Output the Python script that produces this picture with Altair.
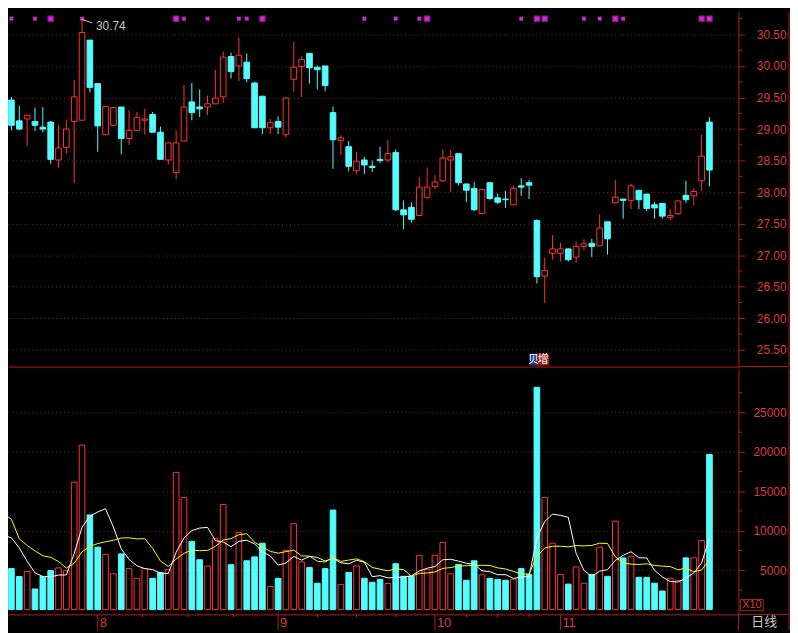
import altair as alt
import pandas as pd

# ---------------- data ----------------
opens = [29.46, 29.13, 29.16, 29.12, 29.03, 29.11, 28.51, 28.71, 29.12, 29.14,
         30.41, 29.72, 28.91, 29.06, 29.35, 28.85, 28.98, 29.14, 29.23, 28.95,
         28.51, 28.31, 28.81, 29.43, 29.35, 29.35, 29.40, 29.51, 30.15, 30.00,
         30.06, 29.73, 29.52, 29.02, 29.12, 28.91, 29.79, 29.99, 30.20, 29.98,
         30.00, 29.26, 28.82, 28.72, 28.34, 28.51, 28.41, 28.52, 28.51, 28.63,
         27.72, 27.76, 27.63, 27.92, 28.09, 28.18, 28.51, 28.61, 28.13, 28.06,
         27.66, 28.15, 27.91, 27.89, 27.80, 28.10, 28.15, 27.55, 26.67, 27.03,
         27.03, 27.10, 26.97, 27.14, 27.19, 27.15, 27.53, 27.83, 27.89, 27.87,
         28.03, 27.97, 27.80, 27.82, 27.60, 27.66, 27.95, 27.94, 28.18, 29.11]
highs = [29.51, 29.37, 29.22, 29.34, 29.35, 29.13, 29.07, 29.15, 29.78, 30.74,
         30.41, 29.72, 29.37, 29.35, 29.35, 29.30, 29.27, 29.32, 29.27, 29.04,
         28.79, 28.98, 29.70, 29.73, 29.63, 29.53, 29.94, 30.23, 30.21, 30.45,
         30.20, 29.75, 29.53, 29.16, 29.20, 29.50, 30.38, 30.15, 30.20, 30.01,
         30.00, 29.36, 28.90, 28.81, 28.64, 28.56, 28.50, 28.72, 28.82, 28.68,
         27.87, 27.84, 28.24, 28.39, 28.27, 28.67, 28.67, 28.61, 28.13, 28.16,
         28.05, 28.15, 27.98, 28.02, 28.10, 28.22, 28.19, 27.57, 26.96, 27.32,
         27.20, 27.11, 27.22, 27.25, 27.26, 27.65, 27.53, 28.19, 27.89, 28.13,
         28.03, 27.97, 27.84, 27.82, 27.73, 27.87, 28.18, 28.06, 28.91, 29.19]
lows = [28.98, 28.98, 28.73, 28.97, 28.95, 28.45, 28.39, 28.61, 28.14, 29.14,
        29.58, 28.64, 28.91, 29.06, 28.60, 28.75, 28.98, 28.91, 28.95, 28.52,
        28.44, 28.20, 28.81, 29.14, 29.19, 29.22, 29.40, 29.41, 29.80, 29.76,
        29.74, 29.02, 28.92, 28.92, 28.92, 28.87, 29.59, 29.51, 29.72, 29.63,
        29.60, 28.37, 28.59, 28.33, 28.29, 28.29, 28.32, 28.46, 28.47, 27.70,
        27.41, 27.52, 27.63, 27.89, 28.05, 28.16, 28.01, 28.11, 27.84, 27.70,
        27.66, 27.87, 27.81, 27.75, 27.80, 27.94, 27.89, 26.55, 26.24, 26.93,
        26.90, 26.90, 26.88, 27.08, 26.97, 27.15, 27.01, 27.83, 27.58, 27.73,
        27.73, 27.70, 27.58, 27.58, 27.55, 27.64, 27.83, 27.79, 28.02, 28.09]
closes = [29.06, 29.00, 29.22, 29.06, 29.00, 28.52, 28.70, 29.00, 29.51, 30.53,
          29.66, 29.05, 29.36, 29.34, 28.85, 28.98, 29.18, 29.16, 28.95, 28.52,
          28.78, 28.78, 29.35, 29.26, 29.32, 29.40, 29.49, 30.14, 29.91, 30.17,
          29.80, 29.02, 29.02, 29.10, 29.03, 29.49, 29.98, 30.10, 29.97, 29.94,
          29.69, 28.83, 28.86, 28.41, 28.49, 28.43, 28.39, 28.50, 28.61, 27.72,
          27.64, 27.57, 28.08, 28.08, 28.16, 28.54, 28.56, 28.15, 28.03, 27.72,
          28.04, 27.90, 27.84, 27.88, 28.06, 28.08, 28.11, 26.66, 26.76, 27.10,
          27.10, 26.93, 27.14, 27.18, 27.14, 27.43, 27.26, 27.92, 27.87, 28.10,
          27.88, 27.74, 27.75, 27.62, 27.63, 27.86, 27.88, 28.01, 28.57, 28.35]
volumes = [5200, 4200, 4830, 2610, 4200, 4950, 5290, 4950, 16160, 20860,
           12000, 7920, 7020, 4540, 7060, 5200, 3970, 5200, 3970, 4710,
           5080, 17400, 14230, 8660, 6320, 5530, 8990, 13320, 5700, 9780,
           6190, 6690, 8420, 2940, 3970, 7510, 10890, 6030, 5330, 3350,
           5200, 12620, 3190, 4710, 5530, 3970, 3470, 3840, 3310, 5820,
           4220, 4220, 6890, 5080, 6890, 8500, 4540, 5740, 3720, 6190,
           4420, 3970, 3840, 3720, 3840, 5200, 4460, 28190, 14230, 8420,
           4460, 3230, 5410, 3350, 4460, 7920, 4220, 11220, 6560, 6770,
           4090, 4090, 3350, 2360, 3970, 3720, 6560, 6560, 8750, 19670]
# volumes of the days just before the visible window (needed for the moving averages)
prev_volumes = [28900, 13100, 9600, 10400, 6950, 10600, 13250, 9960, 6460]

month_start_idx = [11, 34, 54, 70]
month_labels = ["8", "9", "10", "11"]
week_tick_idx = [16.7, 22.5, 28.3, 39, 44, 49, 58, 62, 66]

price_ticks = [25.5, 26.0, 26.5, 27.0, 27.5, 28.0, 28.5, 29.0, 29.5, 30.0, 30.5]
price_minor_ticks = [25.75, 26.25, 26.75, 27.25, 27.75, 28.25, 28.75, 29.25, 29.75, 30.25, 30.75]
volume_ticks = [5000, 10000, 15000, 20000, 25000]
volume_minor_ticks = [2500, 7500, 12500, 17500, 22500, 27500]

signal_small = [0, 3, 9, 22, 25, 29, 30, 45, 49, 52, 65, 73, 75, 78]
signal_big = [5, 21, 32, 53, 67, 68, 77, 88, 89]

peak_idx = [9]
peak_value = [30.74]

event_labels = ["贝", "增"]
unit_label = "X10"
period_label = "日线"

# ---------------- styling ----------------
FONT = "Liberation Sans"
CJK = "Noto Sans CJK SC"
RED = "#ff3434"
CYAN = "#54fcfc"
AXIS_RED = "#b41c1c"
GRID_RED = "#8c1a1a"
LABEL_RED = "#dc3c3c"
MAGENTA = "#d030d0"

W, H1, H2 = 737, 358, 248

n = len(opens)
kdf = pd.DataFrame({"i": list(range(n)), "open": opens, "high": highs, "low": lows,
                    "close": closes, "volume": volumes})
kdf["dir"] = ["up" if c >= o else "down" for o, c in zip(opens, closes)]

xs = alt.Scale(domain=[-0.44, 92.7], nice=False, zero=False)
ps = alt.Scale(domain=[25.235, 30.859], nice=False, zero=False)
vs = alt.Scale(domain=[-606, 30563], nice=False, zero=False)
dir_stroke = alt.Scale(domain=["up", "down"], range=[RED, CYAN])
dir_fill = alt.Scale(domain=["up", "down"], range=["#000000", CYAN])

common_y_axis = dict(orient="right", title=None, domain=True, domainColor=AXIS_RED,
                     ticks=True, tickSize=6, tickColor=AXIS_RED, tickCount=40,
                     labelColor=LABEL_RED, labelFont=FONT, labelFontSize=12,
                     labelAlign="right", labelPadding=42, labelOverlap=False,
                     grid=True, gridColor=GRID_RED, gridDash=[1, 3], zindex=0)
price_axis = alt.Axis(values=price_ticks, format=".2f", **common_y_axis)
vol_axis = alt.Axis(values=volume_ticks, format="d", **common_y_axis)
x_axis = alt.Axis(orient="bottom", labels=False, ticks=False, domain=True, domainColor=AXIS_RED,
                  grid=False, title=None)

one = pd.DataFrame({"a": [0]})
base = alt.Chart(kdf)

# ---------------- price panel ----------------
wicks = base.mark_rule(strokeWidth=1).encode(
    x=alt.X("i:Q", scale=xs, axis=x_axis),
    y=alt.Y("low:Q", scale=ps, axis=price_axis),
    y2="high:Q",
    color=alt.Color("dir:N", scale=dir_stroke, legend=None),
)
bodies = base.transform_calculate(xl="datum.i - 0.36", xr="datum.i + 0.36").mark_rect(strokeWidth=1).encode(
    x=alt.X("xl:Q", scale=xs), x2="xr:Q",
    y=alt.Y("open:Q", scale=ps), y2="close:Q",
    fill=alt.Fill("dir:N", scale=dir_fill, legend=None),
    stroke=alt.Stroke("dir:N", scale=dir_stroke, legend=None),
)
price_minor = alt.Chart(pd.DataFrame({"p": price_minor_ticks})).mark_rule(color=AXIS_RED).encode(
    x=alt.value(W), x2=alt.value(W + 4), y=alt.Y("p:Q", scale=ps))
right_border_top = alt.Chart(one).mark_rule(color=AXIS_RED).encode(
    x=alt.value(W + 51), y=alt.value(0), y2=alt.value(H1))
sep_right = alt.Chart(one).mark_rule(color=AXIS_RED).encode(
    x=alt.value(W), x2=alt.value(W + 51), y=alt.value(H1))

sig = pd.DataFrame({"i": signal_small + signal_big,
                    "kind": ["small"] * len(signal_small) + ["big"] * len(signal_big)})
sig_bg = alt.Chart(sig).transform_filter("datum.kind == 'big'").mark_square(
    size=42, color="#a010a0", opacity=1).encode(x=alt.X("i:Q", scale=xs), y=alt.value(7))
sig_x = alt.Chart(sig).mark_point(shape="cross", angle=45, filled=True, size=24, color=MAGENTA, opacity=1).encode(
    x=alt.X("i:Q", scale=xs), y=alt.value(7))

peak = pd.DataFrame({"i": peak_idx, "high": peak_value})
peak_arrow = alt.Chart(peak).mark_rule(color="#c8c8c8", strokeWidth=1).encode(
    x=alt.X("i:Q", scale=xs), x2=alt.datum(peak_idx[0] + 1.3),
    y=alt.Y("high:Q", scale=ps), y2=alt.datum(peak_value[0] - 0.06))
peak_text = alt.Chart(peak).mark_text(color="#c8c8c8", font=FONT, fontSize=12, align="left",
                                      baseline="middle", dx=14, dy=7).encode(
    x=alt.X("i:Q", scale=xs), y=alt.Y("high:Q", scale=ps),
    text=alt.Text("high:Q", format=".2f"))

ev = pd.DataFrame({"x0": [66.06, 67.06], "x1": [67.06, 68.56], "label": event_labels})
ev_blue = alt.Chart(ev.iloc[[0]]).mark_rect(color="#1e3c82").encode(
    x=alt.X("x0:Q", scale=xs), x2="x1:Q", y=alt.value(345), y2=alt.value(357))
ev_red = alt.Chart(ev.iloc[[1]]).mark_rect(color="#a01818").encode(
    x=alt.X("x0:Q", scale=xs), x2="x1:Q", y=alt.value(345), y2=alt.value(357))
ev_text = alt.Chart(ev).transform_calculate(xm="(datum.x0 + datum.x1) / 2").mark_text(
    color="#ffffff", font=CJK, fontSize=11, baseline="middle", align="center").encode(
    x=alt.X("xm:Q", scale=xs), y=alt.value(351), text="label:N")

price = alt.layer(wicks, bodies, price_minor, right_border_top, sep_right, sig_bg, sig_x,
                  peak_arrow, peak_text, ev_blue, ev_red, ev_text).properties(width=W, height=H1)

# ---------------- volume panel ----------------
vbars = base.transform_calculate(xl="datum.i - 0.36", xr="datum.i + 0.36").mark_rect(strokeWidth=1).encode(
    x=alt.X("xl:Q", scale=xs, axis=x_axis), x2="xr:Q",
    y=alt.Y("volume:Q", scale=vs, axis=vol_axis), y2=alt.datum(0),
    fill=alt.Fill("dir:N", scale=dir_fill, legend=None),
    stroke=alt.Stroke("dir:N", scale=dir_stroke, legend=None),
)
vall = pd.DataFrame({"i": list(range(-len(prev_volumes), 0)) + list(range(n)),
                     "volume": prev_volumes + volumes})
ma_base = alt.Chart(vall).transform_window(
    ma5="mean(volume)", frame=[-4, 0], sort=[alt.SortField("i")]
).transform_window(
    ma10="mean(volume)", frame=[-9, 0], sort=[alt.SortField("i")]
).transform_filter("datum.i >= -1")
ma5 = ma_base.mark_line(color="#ffffff", strokeWidth=1, clip=True).encode(
    x=alt.X("i:Q", scale=xs), y=alt.Y("ma5:Q", scale=vs), order="i:Q")
ma10 = ma_base.mark_line(color="#ffff00", strokeWidth=1, clip=True).encode(
    x=alt.X("i:Q", scale=xs), y=alt.Y("ma10:Q", scale=vs), order="i:Q")

vol_minor = alt.Chart(pd.DataFrame({"v": volume_minor_ticks})).mark_rule(color=AXIS_RED).encode(
    x=alt.value(W), x2=alt.value(W + 4), y=alt.Y("v:Q", scale=vs))
months = pd.DataFrame({"i": month_start_idx, "label": month_labels})
mticks = alt.Chart(months).mark_rule(color=AXIS_RED).encode(
    x=alt.X("i:Q", scale=xs), y=alt.value(H2), y2=alt.value(H2 + 16))
mlabels = alt.Chart(months).mark_text(color=LABEL_RED, font=FONT, fontSize=13, align="left",
                                      baseline="middle", dx=2).encode(
    x=alt.X("i:Q", scale=xs), y=alt.value(H2 + 8.5), text="label:N")
wticks = alt.Chart(pd.DataFrame({"i": week_tick_idx})).mark_rule(color=AXIS_RED).encode(
    x=alt.X("i:Q", scale=xs), y=alt.value(H2), y2=alt.value(H2 + 3))
bottom_right_h = alt.Chart(one).mark_rule(color=AXIS_RED).encode(
    x=alt.value(W), x2=alt.value(W + 51), y=alt.value(H2))
bottom_right_v = alt.Chart(one).mark_rule(color=AXIS_RED).encode(
    x=alt.value(W), y=alt.value(H2), y2=alt.value(H2 + 16))
right_border_bot = alt.Chart(one).mark_rule(color=AXIS_RED).encode(
    x=alt.value(W + 51), y=alt.value(0), y2=alt.value(H2 + 16))
unit_box = alt.Chart(one).mark_rect(filled=False, stroke=AXIS_RED, strokeWidth=1).encode(
    x=alt.value(W + 2), x2=alt.value(W + 25), y=alt.value(H2 - 15), y2=alt.value(H2 - 4))
unit_text = alt.Chart(one).mark_text(text=unit_label, color=LABEL_RED, font=FONT, fontSize=11,
                                     align="center", baseline="middle").encode(
    x=alt.value(W + 13.5), y=alt.value(H2 - 9.5))
period_text = alt.Chart(one).mark_text(text=period_label, color="#c8c8c8", font=CJK, fontSize=13,
                                       align="center", baseline="middle").encode(
    x=alt.value(W + 26), y=alt.value(H2 + 8))

volume = alt.layer(vbars, ma5, ma10, vol_minor, mticks, mlabels, wticks, bottom_right_h, bottom_right_v,
                   right_border_bot, unit_box, unit_text, period_text).properties(width=W, height=H2)

chart = alt.vconcat(price, volume, spacing=0).properties(padding=0).configure(
    background="#000000").configure_view(stroke=None).configure_axis(title=None)

chart.save("out.html", embed_options={"renderer": "svg", "actions": False})
